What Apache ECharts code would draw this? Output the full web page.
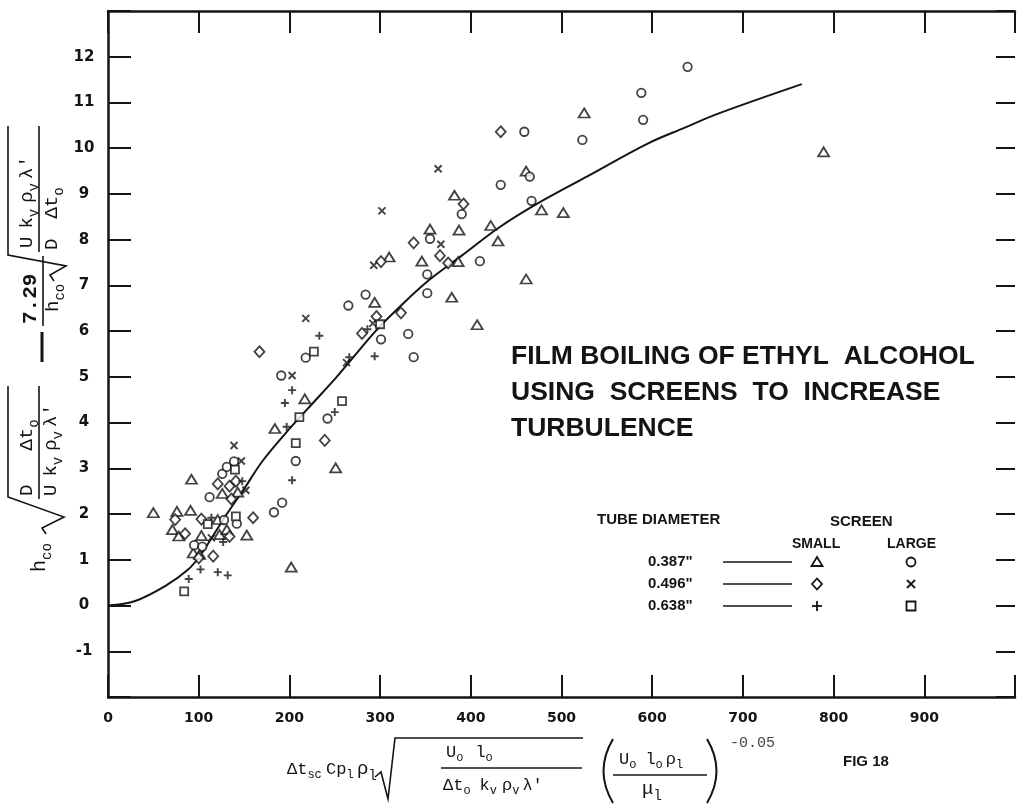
<!DOCTYPE html>
<html>
<head>
<meta charset="utf-8">
<script src="https://cdn.jsdelivr.net/npm/echarts@6/dist/echarts.min.js"></script>
<style>
  html, body { margin: 0; padding: 0; background: #fff; }
  #chart { width: 1018px; height: 811px; }
</style>
</head>
<body>
<div id="chart"></div>
<script>
// ---- data -------------------------------------------------------------
const xTickLabels = ['0', '100', '200', '300', '400', '500', '600', '700', '800', '900'];
const yTickLabels = ['-1', '0', '1', '2', '3', '4', '5', '6', '7', '8', '9', '10', '11', '12'];

const tubeDiameters = ['0.387"', '0.496"', '0.638"'];

// 0.387" tube, small screen (triangles)
const d387Small = [[50,2.03],[92,2.76],[76,2.06],[71,1.66],[78,1.52],[91,2.08],[121,1.88],[103,1.53],
  [123,1.55],[131,1.66],[153,1.54],[94,1.15],[101,1.12],[126,2.45],[143,2.48],[202,0.84],[251,3.01],
  [184,3.87],[217,4.52],[294,6.63],[310,7.62],[346,7.53],[355,8.23],[387,8.21],[382,8.97],[422,8.31],
  [430,7.97],[386,7.52],[379,6.74],[407,6.14],[461,7.14],[461,9.50],[478,8.65],[502,8.59],[525,10.77],[789,9.92]];
// 0.387" tube, large screen (circles)
const d387Large = [[95,1.32],[104,1.29],[128,1.87],[142,1.79],[112,2.37],[126,2.88],[131,3.03],[139,3.15],
  [183,2.04],[192,2.25],[207,3.16],[242,4.09],[191,5.03],[218,5.42],[265,6.56],[284,6.80],[301,5.82],
  [331,5.94],[337,5.43],[352,7.24],[352,6.83],[410,7.53],[355,8.02],[390,8.56],[433,9.20],[465,9.38],
  [459,10.36],[467,8.85],[523,10.18],[588,11.21],[590,10.62],[639,11.78]];
// 0.496" tube, small screen (diamonds)
const d496Small = [[74,1.88],[85,1.57],[103,1.89],[160,1.92],[134,1.51],[100,1.04],[116,1.08],[239,3.61],
  [167,5.55],[121,2.66],[134,2.61],[141,2.72],[136,2.33],[296,6.32],[280,5.95],[301,7.52],[323,6.40],
  [337,7.93],[366,7.65],[375,7.49],[392,8.78],[433,10.36]];
// 0.496" tube, large screen (crosses)
const d496Large = [[114,1.48],[139,3.50],[147,3.16],[152,2.52],[203,5.03],[218,6.28],[263,5.31],[292,6.17],
  [293,7.44],[302,8.63],[364,9.55],[367,7.90]];
// 0.638" tube, small screen (plus signs)
const d638Small = [[114,1.92],[127,1.39],[102,0.79],[121,0.73],[132,0.66],[89,0.58],[148,2.72],[203,2.74],
  [197,3.91],[195,4.43],[203,4.71],[250,4.23],[233,5.90],[266,5.43],[286,6.04],[294,5.45]];
// 0.638" tube, large screen (squares)
const d638Large = [[110,1.78],[141,1.95],[84,0.31],[140,2.97],[207,3.55],[211,4.12],[258,4.47],[227,5.55],[300,6.15]];

// correlating curve
const curve = [[0,0],[30,0.1],[65,0.45],[88,0.78],[100,1.05],[115,1.5],[131,2.0],[150,2.55],[170,3.15],
  [195,3.75],[220,4.3],[250,4.95],[265,5.3],[295,6.0],[320,6.5],[353,7.1],[390,7.65],[430,8.25],
  [470,8.75],[530,9.4],[595,10.1],[636,10.45],[672,10.75],[765,11.4]];

// ---- styling helpers ----------------------------------------------------
const INK = '#141414';
const MONO = '"Liberation Mono", "DejaVu Sans Mono", monospace';
const SANS = '"Liberation Sans", Arial, sans-serif';
const LABEL = '"DejaVu Sans", sans-serif';

const meas = document.createElement('canvas').getContext('2d');
function textWidth(t, size, family, weight) {
  meas.font = (weight || 'normal') + ' ' + size + 'px ' + family;
  return meas.measureText(t).width;
}

// lays out a run of normal ('n') and subscript ('s') pieces; numbers are gaps
function run(parts, x0, y, size, opt) {
  opt = opt || {};
  const fam = opt.family || MONO, weight = opt.weight || 'normal';
  const els = []; let x = x0;
  parts.forEach(p => {
    if (typeof p === 'number') { x += p; return; }
    const sub = p[1] === 's';
    const fs = sub ? Math.round(size * 0.72) : size;
    const dy = sub ? size * 0.36 : 0;
    els.push({ type: 'text', x: x, y: y + dy, silent: true,
      style: { text: p[0], fontSize: fs, fontFamily: fam, fontWeight: weight, fill: INK,
               align: 'left', verticalAlign: 'middle' } });
    x += textWidth(p[0], fs, fam, weight);
  });
  return els;
}
function seg(x1, y1, x2, y2, w) {
  return { type: 'line', silent: true, shape: { x1, y1, x2, y2 }, style: { stroke: INK, lineWidth: w || 1.6 } };
}
function poly(points, w) {
  return { type: 'polyline', silent: true, shape: { points }, style: { stroke: INK, lineWidth: w || 1.6, fill: null } };
}
function label(text, x, y, size, family, weight, fill) {
  return { type: 'text', x, y, silent: true,
    style: { text, fontSize: size, fontFamily: family, fontWeight: weight || 'bold', fill: fill || INK,
             align: 'left', verticalAlign: 'middle' } };
}
function legendMark(kind, cx, cy) {
  const st = { stroke: INK, lineWidth: 1.8, fill: '#fff' };
  if (kind === 'triangle') return { type: 'polygon', shape: { points: [[cx, cy - 5], [cx + 5.5, cy + 4], [cx - 5.5, cy + 4]] }, style: st };
  if (kind === 'circle') return { type: 'circle', shape: { cx, cy, r: 4.5 }, style: st };
  if (kind === 'diamond') return { type: 'polygon', shape: { points: [[cx, cy - 5.5], [cx + 5, cy], [cx, cy + 5.5], [cx - 5, cy]] }, style: st };
  if (kind === 'rect') return { type: 'rect', shape: { x: cx - 4.5, y: cy - 4.5, width: 9, height: 9 }, style: st };
  if (kind === 'cross') return { type: 'group', children: [seg(cx - 4, cy - 4, cx + 4, cy + 4, 1.8), seg(cx + 4, cy - 4, cx - 4, cy + 4, 1.8)] };
  return { type: 'group', children: [seg(cx - 5, cy, cx + 5, cy, 1.8), seg(cx, cy - 5, cx, cy + 5, 1.8)] };
}

// ---- axis titles (formula lettering) -----------------------------------
const xTitle = [].concat(
  run([['Δt', 'n'], ['sc', 's']], 287, 769, 17),
  run([['Cp', 'n'], ['l', 's']], 326, 769, 17),
  run([['ρ', 'n'], ['l', 's']], 357, 769, 19),
  [poly([[375, 777], [381, 772], [388, 799], [395, 738], [583, 738]], 1.6)],
  run([['U', 'n'], ['o', 's'], 12, ['l', 'n'], ['o', 's']], 446, 752, 17),
  [seg(441, 768, 582, 768)],
  run([['Δt', 'n'], ['o', 's'], 9, ['k', 'n'], ['v', 's'], 5, ['ρ', 'n'], ['v', 's'], 3, ['λ′', 'n']], 443, 785, 17),
  [{ type: 'bezierCurve', silent: true, shape: { x1: 613, y1: 739, cpx1: 594, cpy1: 771, x2: 613, y2: 803 }, style: { stroke: INK, lineWidth: 2, fill: null } }],
  run([['U', 'n'], ['o', 's'], 9, ['l', 'n'], ['o', 's'], 3, ['ρ', 'n'], ['l', 's']], 619, 759, 17),
  [seg(613, 775, 707, 775)],
  run([['μ', 'n'], ['l', 's']], 642, 789, 19),
  [{ type: 'bezierCurve', silent: true, shape: { x1: 707, y1: 739, cpx1: 726, cpy1: 771, x2: 707, y2: 803 }, style: { stroke: INK, lineWidth: 2, fill: null } }],
  [label('-0.05', 730, 743, 15, MONO, 'normal', '#444')],
  [label('FIG 18', 843, 762, 15, SANS, 'bold')]
);

// rotated y title: local x runs up the page, local y points to the right
const yTitleParts = [].concat(
  run([['h', 'n'], ['co', 's']], 6, 0, 20),
  [poly([[44, 6], [50, 2], [61, 24], [81, -32], [192, -32]], 1.6)],
  run([['D', 'n'], 34, ['Δt', 'n'], ['o', 's']], 82, -13, 19),
  [seg(79, -1, 192, -1)],
  run([['U', 'n'], 8, ['k', 'n'], ['v', 's'], 6, ['ρ', 'n'], ['v', 's'], 4, ['λ′', 'n']], 82, 11, 19),
  [seg(216, 2, 246, 2, 3)],
  run([['7.29', 'n']], 254, -9, 21, { weight: 'bold' }),
  [seg(252, 3, 322, 3)],
  run([['h', 'n'], ['co', 's']], 266, 13, 19),
  [poly([[297, 14], [303, 10], [312, 26], [323, -32], [452, -32]], 1.6)],
  run([['U', 'n'], 8, ['k', 'n'], ['v', 's'], 6, ['ρ', 'n'], ['v', 's'], 4, ['λ′', 'n']], 330, -13, 19),
  [seg(326, -1, 452, -1)],
  run([['D', 'n'], 20, ['Δt', 'n'], ['o', 's']], 328, 12, 19)
);
const yTitle = { type: 'group', x: 40, y: 578, rotation: Math.PI / 2, children: yTitleParts };

// ---- descriptive lettering + legend -----------------------------------
const legendKinds = [['triangle', 'circle'], ['diamond', 'cross'], ['plus', 'rect']];
const rowY = [562, 584, 606];
const legendEls = [
  label('TUBE DIAMETER', 597, 520, 15, SANS),
  label('SCREEN', 830, 522, 15, SANS),
  label('SMALL', 792, 544, 14, SANS),
  label('LARGE', 887, 544, 14, SANS)
];
tubeDiameters.forEach((d, i) => {
  legendEls.push(label(d, 648, rowY[i], 15, SANS));
  legendEls.push(seg(723, rowY[i], 792, rowY[i], 1.6));
  legendEls.push(legendMark(legendKinds[i][0], 817, rowY[i]));
  legendEls.push(legendMark(legendKinds[i][1], 911, rowY[i]));
});
const titleEls = [
  label('FILM BOILING OF ETHYL  ALCOHOL', 511, 357, 26.5, SANS),
  label('USING  SCREENS  TO  INCREASE', 511, 393, 26.5, SANS),
  label('TURBULENCE', 511, 429, 26.5, SANS)
];

// ---- chart ------------------------------------------------------------
const markStyle = { color: '#fff', borderColor: INK, borderWidth: 1.8 };
const strokeMark = { color: 'rgba(0,0,0,0)', borderColor: INK, borderWidth: 1.9 };
function scatter(name, data, symbol, size, style) {
  return { name, type: 'scatter', data, symbol, symbolSize: size, itemStyle: style, z: 4,
           emphasis: { disabled: true } };
}

const axisLine = { show: true, onZero: false, lineStyle: { color: INK, width: 2.5 } };
const tickStyle = { color: INK, width: 2 };

const option = {
  animation: false,
  backgroundColor: '#fff',
  grid: { left: 108, right: -1, top: 11, bottom: 114, containLabel: false },
  xAxis: [
    { type: 'value', min: 0, max: 1000, interval: 100, position: 'bottom',
      axisLine, axisTick: { show: true, inside: true, length: 22, lineStyle: tickStyle },
      splitLine: { show: false },
      axisLabel: { margin: 14, color: INK, fontFamily: LABEL, fontWeight: 'bold', fontSize: 14,
        formatter: v => xTickLabels.includes(String(v)) ? String(v) : '' } },
    { type: 'value', min: 0, max: 1000, interval: 100, position: 'top',
      axisLine, axisTick: { show: true, inside: true, length: 22, lineStyle: tickStyle },
      splitLine: { show: false }, axisLabel: { show: false } }
  ],
  yAxis: [
    { type: 'value', min: -2, max: 13, interval: 1, position: 'left',
      axisLine, axisTick: { show: true, inside: true, length: 23, lineStyle: tickStyle },
      splitLine: { show: false },
      axisLabel: { margin: 24, align: 'center', color: INK, fontFamily: LABEL, fontWeight: 'bold', fontSize: 15,
        formatter: v => yTickLabels.includes(String(v)) ? String(v) : '' } },
    { type: 'value', min: -2, max: 13, interval: 1, position: 'right',
      axisLine: { show: false, onZero: false },
      axisTick: { show: true, inside: true, length: 19, lineStyle: tickStyle },
      splitLine: { show: false }, axisLabel: { show: false } }
  ],
  series: [
    { name: 'correlation', type: 'line', data: curve, smooth: 0.35, showSymbol: false, z: 2,
      lineStyle: { color: INK, width: 2 }, emphasis: { disabled: true } },
    scatter('0.387" small screen', d387Small, 'triangle', [11, 9], markStyle),
    scatter('0.387" large screen', d387Large, 'circle', 8.5, markStyle),
    scatter('0.496" small screen', d496Small, 'diamond', [10, 11], markStyle),
    scatter('0.496" large screen', d496Large, 'path://M0,0L10,10M10,0L0,10', 7, strokeMark),
    scatter('0.638" small screen', d638Small, 'path://M5,0L5,10M0,5L10,5', 8, strokeMark),
    scatter('0.638" large screen', d638Large, 'rect', 8, markStyle)
  ],
  graphic: [].concat(xTitle, [yTitle], legendEls, titleEls)
};

const chart = echarts.init(document.getElementById('chart'), null, { renderer: 'canvas' });
chart.setOption(option);
</script>
</body>
</html>
